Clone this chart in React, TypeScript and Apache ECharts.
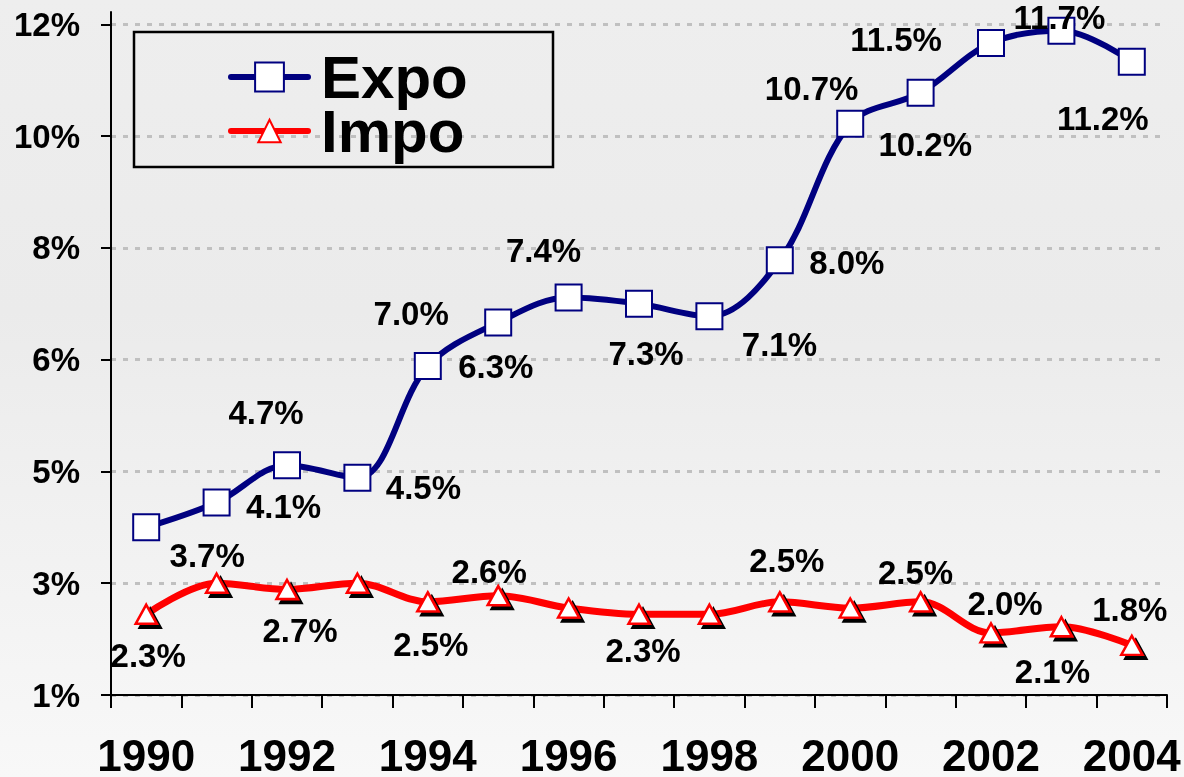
import React, { useEffect, useRef } from "react";
import * as echarts from "echarts";

const years = ["1990", "1991", "1992", "1993", "1994", "1995", "1996", "1997", "1998", "1999", "2000", "2001", "2002", "2003", "2004"];
const expo = [3.7, 4.1, 4.7, 4.5, 6.3, 7.0, 7.4, 7.3, 7.1, 8.0, 10.2, 10.7, 11.5, 11.7, 11.2];
const impo = [2.3, 2.8, 2.7, 2.8, 2.5, 2.6, 2.4, 2.3, 2.3, 2.5, 2.4, 2.5, 2.0, 2.1, 1.8];
const yTickValues = [1, 2.8, 4.6, 6.4, 8.2, 10, 11.8];
const yTickLabels = ["1%", "3%", "5%", "6%", "8%", "10%", "12%"];

// label placement (layout only)
const expoLabelOffsets: (number[] | null)[] = [
  [61, 28], [67, 4], [-21, -53], [66, 10], [68, 1], [-87, -9], [-25, -47], [7, 50],
  [70, 28], [67, 2], [75, 21], [-109, -4], [-95, -4], [-2, -13], [-29, 57],
];
const impoLabelOffsets: (number[] | null)[] = [
  [2, 41], null, [13, 41], null, [3, 43], [-9, -24], null, [4, 36], null, [7, -41],
  null, [-5, -29], [14, -29], [-9, 45], [-2, -36],
];

const FONT = "'Liberation Sans', Arial, sans-serif";

function buildData(values: number[], offsets: (number[] | null)[]) {
  return values.map((v, i) => {
    const off = offsets[i];
    return {
      value: v,
      label: off ? { show: true, offset: off } : { show: false },
    };
  });
}

export default function App() {
  const ref = useRef<HTMLDivElement>(null);
  useEffect(() => {
    if (!ref.current) return;
    const chart = echarts.init(ref.current, null, { renderer: "svg" });
    const labelStyle = {
      position: "inside",
      color: "#000",
      fontFamily: FONT,
      fontWeight: "bold",
      fontSize: 33,
      lineHeight: 30,
      formatter: (p: any) => Number(p.value).toFixed(1) + "%",
    };
    const legendCommon = {
      orient: "vertical",
      left: 228,
      padding: 0,
      itemGap: 0,
      itemWidth: 77,
      icon: "inherit",
      textStyle: {
        fontFamily: FONT,
        fontWeight: "bold",
        fontSize: 60,
        lineHeight: 54,
        color: "#000",
        padding: [0, 0, 0, 8],
      },
      lineStyle: { width: 6, cap: "round" },
      itemStyle: { shadowOffsetX: 0, shadowOffsetY: 0, shadowBlur: 0, shadowColor: "transparent" },
      selectedMode: false,
    };
    chart.setOption({
      animation: false,
      graphic: [
        {
          type: "rect",
          z: -100,
          silent: true,
          shape: { x: 0, y: 0, width: 1184, height: 777 },
          style: {
            fill: {
              type: "linear", x: 0, y: 0, x2: 0, y2: 1,
              colorStops: [
                { offset: 0, color: "#eeeeee" },
                { offset: 0.4, color: "#ebebeb" },
                { offset: 1, color: "#f8f8f8" },
              ],
            },
          },
        },
        {
          type: "rect",
          z: 50,
          silent: true,
          shape: { x: 134, y: 32, width: 419, height: 135 },
          style: { fill: "transparent", stroke: "#000", lineWidth: 2.5 },
        },
      ],
      legend: [
        { ...legendCommon, data: ["Expo"], top: 47, itemHeight: 36 },
        { ...legendCommon, data: ["Impo"], top: 101, itemHeight: 28 },
      ],
      grid: { left: 111, right: 17, top: 12, bottom: 82, containLabel: false, outerBoundsMode: "none" },
      xAxis: {
        type: "category",
        data: years,
        boundaryGap: true,
        axisLine: { lineStyle: { color: "#000", width: 2 } },
        axisTick: { show: true, interval: 0, length: 13, lineStyle: { color: "#000", width: 2 } },
        axisLabel: {
          interval: 1,
          margin: 42,
          color: "#000",
          fontFamily: FONT,
          fontWeight: "bold",
          fontSize: 44,
          lineHeight: 36,
        },
        splitLine: { show: false },
      },
      yAxis: {
        type: "value",
        min: 1,
        max: 12,
        axisLine: { show: true, lineStyle: { color: "#000", width: 2 } },
        axisTick: { show: true, length: 10, customValues: yTickValues, lineStyle: { color: "#000", width: 2 } },
        axisLabel: {
          customValues: yTickValues,
          margin: 31,
          color: "#000",
          fontFamily: FONT,
          fontWeight: "bold",
          fontSize: 33,
          padding: [7, 0, 0, 0],
          formatter: (v: number) => {
            let best = 0;
            yTickValues.forEach((t, i) => {
              if (Math.abs(t - v) < Math.abs(yTickValues[best] - v)) best = i;
            });
            return yTickLabels[best];
          },
        },
        splitLine: { show: true, lineStyle: { color: "#c0c0c0", width: 3, type: [5, 7] } },
      },
      series: [
        {
          name: "Expo",
          type: "line",
          data: buildData(expo, expoLabelOffsets),
          smooth: 0.35,
          symbol: "rect",
          symbolSize: 26,
          lineStyle: { color: "#000080", width: 6 },
          itemStyle: { color: "#ffffff", borderColor: "#000080", borderWidth: 2 },
          label: labelStyle,
          z: 3,
        },
        {
          name: "Impo",
          type: "line",
          data: buildData(impo, impoLabelOffsets),
          smooth: 0.35,
          symbol: "triangle",
          symbolSize: [21, 19],
          lineStyle: { color: "#ff0000", width: 7 },
          itemStyle: {
            color: "#ffffff",
            borderColor: "#ff0000",
            borderWidth: 2.5,
            shadowColor: "#000",
            shadowOffsetX: 4,
            shadowOffsetY: 4,
            shadowBlur: 0,
          },
          label: labelStyle,
          z: 3,
        },
      ],
    });
    return () => chart.dispose();
  }, []);
  return <div ref={ref} style={{ position: "fixed", left: 0, top: 0, width: 1184, height: 777 }} />;
}
